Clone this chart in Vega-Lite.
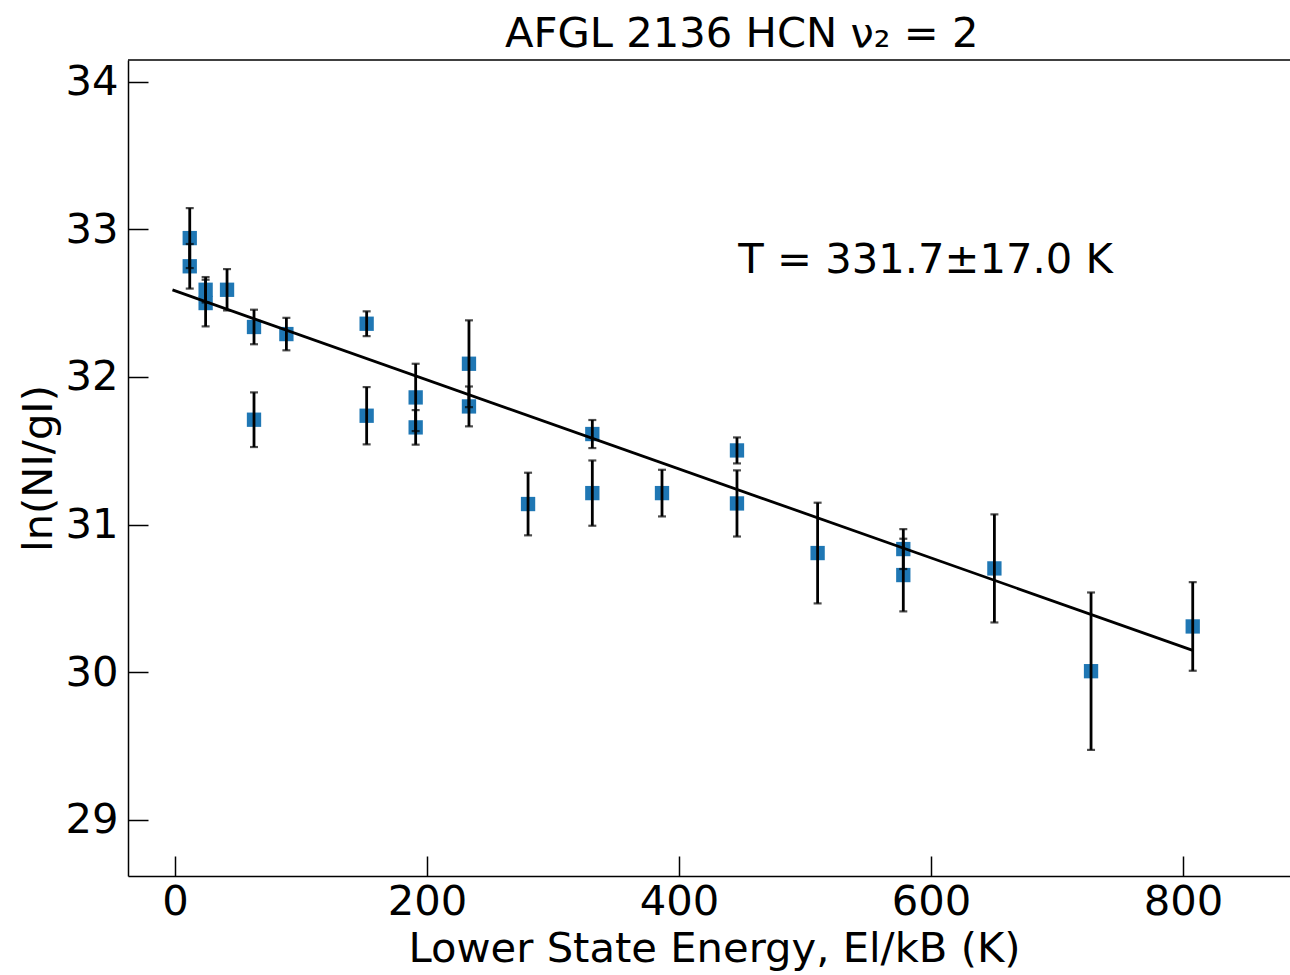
{
  "$schema": "https://vega.github.io/schema/vega-lite/v6.json",
  "width": 1162,
  "height": 816,
  "autosize": {"type": "none"},
  "padding": {"left": 128, "top": 60, "right": 0, "bottom": 99},
  "background": "white",
  "config": {
    "view": {"stroke": null},
    "axis": {
      "grid": false,
      "domainColor": "black",
      "domainWidth": 1.5,
      "tickColor": "black",
      "tickWidth": 1.5,
      "tickSize": -20,
      "labelFont": "DejaVu Sans",
      "labelFontSize": 41.7,
      "labelColor": "black",
      "titleFont": "DejaVu Sans",
      "titleFontSize": 41.7,
      "titleFontWeight": "normal",
      "titleColor": "black"
    }
  },
  "title": {
    "text": "AFGL 2136 HCN  ν₂ = 2",
    "anchor": "start",
    "frame": "group",
    "dx": 377,
    "offset": 4,
    "fontSize": 41.7,
    "font": "DejaVu Sans",
    "fontWeight": "normal",
    "color": "black"
  },
  "datasets": {
    "pts": [
      {"E": 11.7, "lnN": 32.94, "err": 0.203},
      {"E": 11.7, "lnN": 32.749, "err": 0.151},
      {"E": 24.3, "lnN": 32.59, "err": 0.086},
      {"E": 24.3, "lnN": 32.50, "err": 0.158},
      {"E": 41.3, "lnN": 32.59, "err": 0.14},
      {"E": 62.7, "lnN": 32.338, "err": 0.117},
      {"E": 88.4, "lnN": 32.29, "err": 0.11},
      {"E": 62.7, "lnN": 31.71, "err": 0.185},
      {"E": 152.1, "lnN": 32.36, "err": 0.084},
      {"E": 152.1, "lnN": 31.737, "err": 0.194},
      {"E": 191.0, "lnN": 31.861, "err": 0.228},
      {"E": 191.0, "lnN": 31.658, "err": 0.117},
      {"E": 233.3, "lnN": 32.089, "err": 0.294},
      {"E": 233.3, "lnN": 31.80, "err": 0.135},
      {"E": 280.2, "lnN": 31.139, "err": 0.212},
      {"E": 331.2, "lnN": 31.613, "err": 0.095},
      {"E": 331.2, "lnN": 31.213, "err": 0.221},
      {"E": 386.5, "lnN": 31.213, "err": 0.158},
      {"E": 446.0, "lnN": 31.502, "err": 0.088},
      {"E": 446.0, "lnN": 31.143, "err": 0.224},
      {"E": 510.0, "lnN": 30.807, "err": 0.341},
      {"E": 578.0, "lnN": 30.834, "err": 0.135},
      {"E": 578.0, "lnN": 30.658, "err": 0.246},
      {"E": 650.3, "lnN": 30.703, "err": 0.366},
      {"E": 727.0, "lnN": 30.007, "err": 0.533},
      {"E": 807.7, "lnN": 30.31, "err": 0.30}
    ],
    "fit": [
      {"E": -2.0, "lnN": 32.589},
      {"E": 807.7, "lnN": 30.148}
    ],
    "ann": [
      {"E": 447.0, "lnN": 32.79, "label": "T = 331.7±17.0 K"}
    ],
    "frame": [
      {"lnN": 34.146}
    ]
  },
  "layer": [
    {
      "data": {"name": "pts"},
      "mark": {"type": "point", "shape": "square", "filled": true, "size": 205, "color": "#1f77b4", "opacity": 1},
      "encoding": {
        "x": {
          "field": "E", "type": "quantitative", "title": "Lower State Energy, El/kB (K)",
          "scale": {"domain": [-37.3, 884.9], "nice": false, "zero": false},
          "axis": {"values": [0, 200, 400, 600, 800], "format": "d", "labelPadding": 25, "titleX": 586, "titlePadding": 6}
        },
        "y": {
          "field": "lnN", "type": "quantitative", "title": "ln(NI/gI)",
          "scale": {"domain": [28.62, 34.146], "nice": false, "zero": false},
          "axis": {"values": [29, 30, 31, 32, 33, 34], "format": "d", "labelPadding": 30, "titleX": -77, "titleBaseline": "alphabetic"}
        }
      }
    },
    {
      "data": {"name": "pts"},
      "mark": {"type": "errorbar", "ticks": {"size": 8, "thickness": 2.2, "color": "black"}, "rule": {"strokeWidth": 2.8, "color": "black"}},
      "encoding": {
        "x": {"field": "E", "type": "quantitative", "title": "Lower State Energy, El/kB (K)"},
        "y": {"field": "lnN", "type": "quantitative", "title": "ln(NI/gI)"},
        "yError": {"field": "err"}
      }
    },
    {
      "data": {"name": "fit"},
      "mark": {"type": "line", "color": "black", "strokeWidth": 2.8},
      "encoding": {
        "x": {"field": "E", "type": "quantitative", "title": "Lower State Energy, El/kB (K)"},
        "y": {"field": "lnN", "type": "quantitative", "title": "ln(NI/gI)"}
      }
    },
    {
      "data": {"name": "ann"},
      "mark": {"type": "text", "align": "left", "baseline": "middle", "fontSize": 41.7, "font": "DejaVu Sans", "color": "black"},
      "encoding": {
        "x": {"field": "E", "type": "quantitative", "title": "Lower State Energy, El/kB (K)"},
        "y": {"field": "lnN", "type": "quantitative", "title": "ln(NI/gI)"},
        "text": {"field": "label"}
      }
    },
    {
      "data": {"name": "frame"},
      "mark": {"type": "rule", "color": "black", "strokeWidth": 1.5},
      "encoding": {
        "y": {"field": "lnN", "type": "quantitative", "title": "ln(NI/gI)"}
      }
    }
  ]
}
